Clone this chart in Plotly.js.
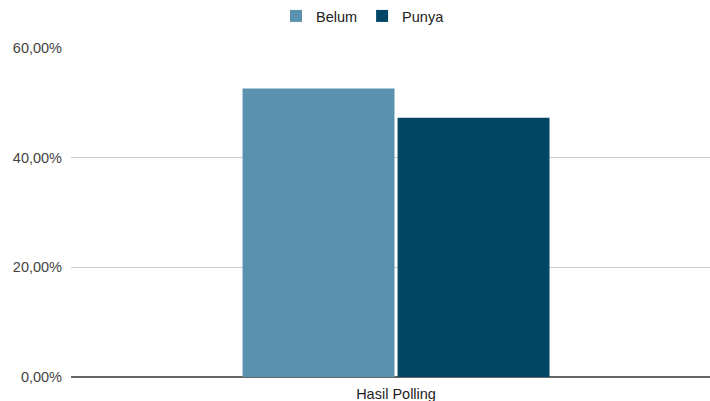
<!DOCTYPE html>
<html>
<head>
<meta charset="utf-8">
<script src="https://cdn.plot.ly/plotly-3.0.1.min.js"></script>
<style>html,body{margin:0;padding:0;background:#fff;}#chart{width:710px;height:401px;}</style>
</head>
<body>
<div id="chart"></div>
<script>
var categories = ["Hasil Polling"];
var seriesNames = ["Belum", "Punya"];
var belumValues = [0.526];
var punyaValues = [0.473];
var yTickVals = [0, 0.2, 0.4, 0.6];
var yTickText = ["0,00%", "20,00%", "40,00%", "60,00%"];

var colors = ["#5a91ae", "#014664"];
var traces = [
  {type: "bar", name: seriesNames[0], x: categories, y: belumValues, marker: {color: colors[0]}, hoverinfo: "none"},
  {type: "bar", name: seriesNames[1], x: categories, y: punyaValues, marker: {color: colors[1]}, hoverinfo: "none"}
];

var layout = {
  width: 710, height: 401,
  margin: {l: 71, r: 0, t: 48, b: 24},
  paper_bgcolor: "#fff", plot_bgcolor: "#fff",
  font: {family: "Liberation Sans, Arial, sans-serif", size: 14.5, color: "#444"},
  barmode: "group",
  bargap: 0.523,
  bargroupgap: 0.02,
  showlegend: true,
  legend: {orientation: "h", xref: "container", yref: "container", x: 276 / 710, xanchor: "left", y: 1.0, yanchor: "top",
           font: {size: 14.5, color: "#222"}, itemgap: 10, traceorder: "normal"},
  xaxis: {type: "category", range: [-0.5, 0.483], showgrid: false, zeroline: false, showline: false,
          ticks: "", tickfont: {size: 14.5, color: "#222"}, ticklabelstandoff: 6, fixedrange: true},
  yaxis: {range: [0, 0.6], tickvals: yTickVals, ticktext: yTickText, showgrid: true, gridcolor: "#cccccc",
          gridwidth: 1, zeroline: true, zerolinecolor: "#666", zerolinewidth: 1.5, showline: false,
          tickfont: {size: 14.5, color: "#444"}, ticklabelstandoff: 8, fixedrange: true}
};

Plotly.newPlot("chart", traces, layout, {staticPlot: true, displayModeBar: false});
</script>
</body>
</html>
